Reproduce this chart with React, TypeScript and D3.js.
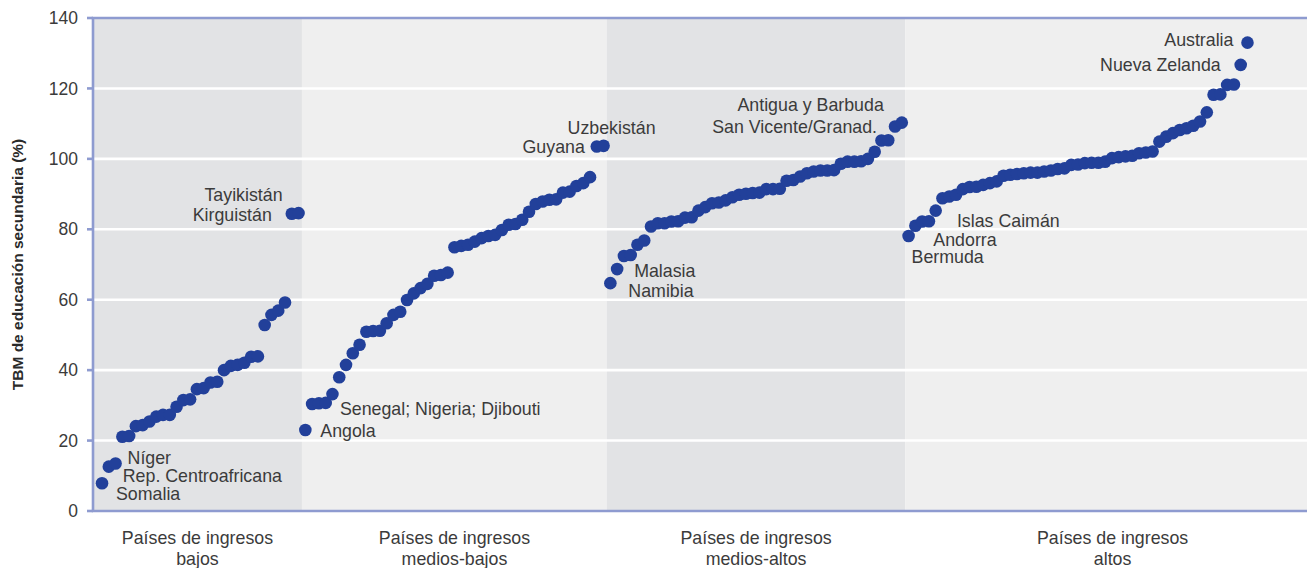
import React from "react";
import * as d3 from "d3";

// ---- Data (TBM de educación secundaria, %, sorted within each income group) ----
const bajos = [7.9, 12.6, 13.5, 21.1, 21.3, 24.1, 24.4, 25.4, 26.8, 27.3, 27.3, 29.6, 31.5, 31.7, 34.6, 34.9, 36.5, 36.7, 40.0, 41.2, 41.5, 42.1, 43.8, 43.9, 52.8, 55.7, 56.9, 59.2, 84.4, 84.6];
const mediosBajos = [23.0, 30.4, 30.6, 30.7, 33.2, 38.0, 41.5, 44.8, 47.2, 50.9, 51.1, 51.2, 53.3, 55.7, 56.6, 59.9, 61.8, 63.3, 64.5, 66.8, 67.0, 67.7, 74.9, 75.3, 75.6, 76.5, 77.5, 78.1, 78.4, 79.8, 81.3, 81.5, 82.7, 85.0, 87.2, 87.9, 88.4, 88.5, 90.4, 90.7, 92.3, 93.1, 94.8, 103.5, 103.7];
const mediosAltos = [64.7, 68.7, 72.4, 72.7, 75.6, 76.8, 80.8, 81.7, 81.7, 82.2, 82.3, 83.3, 83.4, 85.3, 86.3, 87.4, 87.6, 88.2, 89.1, 89.8, 90.1, 90.3, 90.4, 91.4, 91.4, 91.5, 93.8, 94.0, 95.0, 95.9, 96.4, 96.7, 96.7, 96.8, 98.6, 99.2, 99.2, 99.3, 100.0, 102.0, 105.2, 105.3, 109.2, 110.3];
const altos = [78.1, 81.0, 82.2, 82.3, 85.3, 88.8, 89.3, 89.8, 91.4, 92.0, 92.1, 92.6, 93.1, 93.6, 95.2, 95.5, 95.7, 95.9, 96.1, 96.1, 96.4, 96.7, 97.1, 97.3, 98.3, 98.4, 98.8, 98.9, 98.9, 99.2, 100.2, 100.5, 100.7, 100.9, 101.6, 101.8, 102.1, 104.9, 106.3, 107.3, 108.2, 108.7, 109.4, 110.6, 113.2, 118.2, 118.3, 121.0, 121.1, 126.7, 133.0];

const groups = [bajos, mediosBajos, mediosAltos, altos];
const groupLabels = [
  ["Países de ingresos", "bajos"],
  ["Países de ingresos", "medios-bajos"],
  ["Países de ingresos", "medios-altos"],
  ["Países de ingresos", "altos"],
];
const yTicks = [0, 20, 40, 60, 80, 100, 120, 140];
const yTitle = "TBM de educación secundaria (%)";

// annotations: label, global index of the point
const annotations = [
  { text: "Somalia", idx: 0 },
  { text: "Rep. Centroafricana", idx: 1 },
  { text: "Níger", idx: 2 },
  { text: "Kirguistán", idx: 28 },
  { text: "Tayikistán", idx: 29 },
  { text: "Angola", idx: 30 },
  { text: "Senegal; Nigeria; Djibouti", idx: 32 },
  { text: "Guyana", idx: 73 },
  { text: "Uzbekistán", idx: 74 },
  { text: "Namibia", idx: 75 },
  { text: "Malasia", idx: 76 },
  { text: "San Vicente/Granad.", idx: 117 },
  { text: "Antigua y Barbuda", idx: 118 },
  { text: "Bermuda", idx: 119 },
  { text: "Andorra", idx: 120 },
  { text: "Islas Caimán", idx: 122 },
  { text: "Nueva Zelanda", idx: 168 },
  { text: "Australia", idx: 169 },
];
// placement (offset from point, anchor)
const annotationStyle: Record<string, [number, number, string]> = {
  "Somalia": [14, 11, "start"],
  "Rep. Centroafricana": [14, 9, "start"],
  "Níger": [12, -6, "start"],
  "Kirguistán": [-20, 1, "end"],
  "Tayikistán": [-16, -18, "end"],
  "Angola": [15, 1, "start"],
  "Senegal; Nigeria; Djibouti": [21, 6, "start"],
  "Guyana": [-12, 0, "end"],
  "Uzbekistán": [8, -18, "middle"],
  "Namibia": [18, 8, "start"],
  "Malasia": [17, 2, "start"],
  "San Vicente/Granad.": [-18, 0, "end"],
  "Antigua y Barbuda": [-18, -18, "end"],
  "Bermuda": [3, 21, "start"],
  "Andorra": [18, 14, "start"],
  "Islas Caimán": [28, 0, "start"],
  "Nueva Zelanda": [-20, 0, "end"],
  "Australia": [-14, -3, "end"],
};

const W = 1307;
const H = 568;
const FONT = "'Liberation Sans', Arial, Helvetica, sans-serif";
const TEXT = "#3b3b3b";
const AXIS = "#8e9bd0";
const DOT = "#22409a";

export default function App() {
  // global index per point
  const points: { i: number; v: number }[] = [];
  const bandEdges: number[] = [];
  let k = 0;
  groups.forEach((g) => {
    bandEdges.push(k - 0.5);
    g.forEach((v) => points.push({ i: k++, v }));
  });
  const total = k;
  const xMin = -1.33;
  const xMax = total + 9.7;
  bandEdges[0] = xMin;
  bandEdges.push(xMax);

  const x = d3.scaleLinear().domain([xMin, xMax]).range([93, 1320]);
  const y = d3.scaleLinear().domain([0, 140]).range([511, 18]);

  const bandFill = ["#e2e3e5", "#efefef", "#e2e3e5", "#efefef"];

  return (
    <svg
      width={W}
      height={H}
      style={{ position: "absolute", left: 0, top: 0, background: "#fff" }}
      fontFamily={FONT}
    >
      {/* bands */}
      {groups.map((_, gi) => (
        <rect
          key={"b" + gi}
          x={x(bandEdges[gi])}
          y={y(140)}
          width={x(bandEdges[gi + 1]) - x(bandEdges[gi])}
          height={y(0) - y(140)}
          fill={bandFill[gi]}
        />
      ))}
      {/* gridlines */}
      {yTicks.slice(1, -1).map((t) => (
        <line key={"g" + t} x1={x(xMin)} x2={x(xMax)} y1={y(t)} y2={y(t)} stroke="#fff" strokeWidth={2.6} />
      ))}
      {/* axes */}
      <line x1={x(xMin)} x2={x(xMin)} y1={y(140)} y2={y(0)} stroke={AXIS} strokeWidth={2.6} />
      <line x1={x(xMin) - 1.3} x2={x(xMax)} y1={y(0)} y2={y(0)} stroke={AXIS} strokeWidth={2.6} />
      <line x1={x(xMin) - 1.3} x2={x(xMax)} y1={y(140)} y2={y(140)} stroke={AXIS} strokeWidth={2.6} />
      {yTicks.map((t) => (
        <g key={"t" + t}>
          <line x1={x(xMin) - 6} x2={x(xMin)} y1={y(t)} y2={y(t)} stroke={AXIS} strokeWidth={2.6} />
          <text x={78} y={y(t)} dy="0.35em" textAnchor="end" fontSize={17.5} fill={TEXT}>
            {t}
          </text>
        </g>
      ))}
      {/* y title */}
      <text
        transform={`translate(23, ${y(70)}) rotate(-90)`}
        textAnchor="middle"
        fontSize={15.5}
        fontWeight="bold"
        fill="#2a2a2a"
      >
        {yTitle}
      </text>
      {/* category labels */}
      {groupLabels.map((lines, gi) => {
        const cx = x((bandEdges[gi] + bandEdges[gi + 1]) / 2);
        return (
          <text key={"c" + gi} x={cx} textAnchor="middle" fontSize={17.8} fill={TEXT}>
            {lines.map((l, li) => (
              <tspan key={li} x={cx} y={544 + li * 21}>
                {l}
              </tspan>
            ))}
          </text>
        );
      })}
      {/* dots */}
      {points.map((p) => (
        <circle key={"p" + p.i} cx={x(p.i)} cy={y(p.v)} r={6.3} fill={DOT} />
      ))}
      {/* annotations */}
      {annotations.map((a) => {
        const p = points[a.idx];
        const [dx, dy, anchor] = annotationStyle[a.text];
        return (
          <text
            key={a.text}
            x={x(p.i) + dx}
            y={y(p.v) + dy}
            dy="0.35em"
            textAnchor={anchor}
            fontSize={17.8}
            fill={TEXT}
          >
            {a.text}
          </text>
        );
      })}
    </svg>
  );
}
